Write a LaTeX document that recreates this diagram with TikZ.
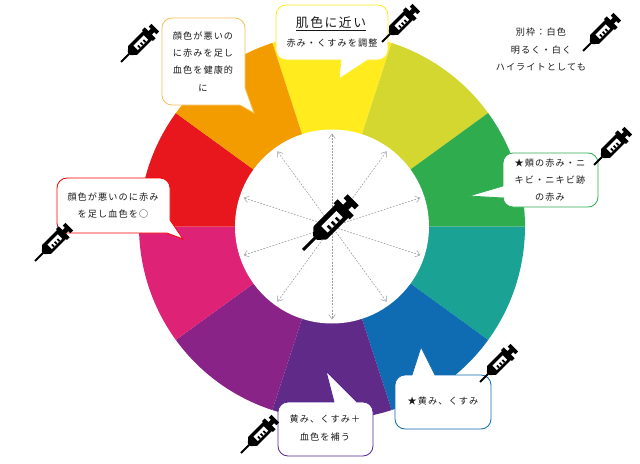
\documentclass[tikz,border=0pt]{standalone}
\usepackage{fontspec}
\setmainfont{Noto Sans CJK JP}[LetterSpace=12]
\usetikzlibrary{arrows.meta,calc}
\definecolor{cyellow}{HTML}{FFEB1E}
\definecolor{clime}{HTML}{D3D72F}
\definecolor{cgreen}{HTML}{2FAC4E}
\definecolor{cteal}{HTML}{1AA395}
\definecolor{cblue}{HTML}{0F6CB2}
\definecolor{cindigo}{HTML}{5F2A88}
\definecolor{cpurple}{HTML}{8A2387}
\definecolor{cmagenta}{HTML}{DE2276}
\definecolor{cred}{HTML}{E8171E}
\definecolor{corange}{HTML}{F39C00}
\tikzset{
  x=0.75pt,y=0.75pt,
  callout/.style={fill=white,line width=0.6pt},
  label/.style={font=\fontsize{6.85pt}{12.9pt}\selectfont,text=black!90,align=center,inner sep=0pt},
  spoke/.style={draw=black!40,line width=0.4pt,dash pattern=on 1.4pt off 1pt,-{Straight Barb[length=3.5pt,width=5pt,line width=0.35pt]}},
  small syringe/.style={scale=0.97,rotate=45},
  syringe/.pic={
    \fill (0,-1) -- (12,-1) -- (12,-2) -- (17,-6.5) -- (38.5,-6.5) -- (38.5,-8) -- (42.5,-8)
       -- (42.5,-2.5) -- (46,-2.5) -- (46,-5.5) -- (50,-5.5) -- (50,5.5) -- (46,5.5)
       -- (46,2.5) -- (42.5,2.5) -- (42.5,8) -- (38.5,8) -- (38.5,6.5) -- (17,6.5) -- (12,2)
       -- (12,1) -- (0,1) -- cycle;
    \fill[white] (21,-3.5) rectangle (36,2.8);
    \foreach \t in {23.5,27.5,31.5}{\fill (\t,-3.5) rectangle (\t+1.8,-.2);}
  }
}
\begin{document}
\begin{tikzpicture}
\useasboundingbox (0,-464) rectangle (640,0);
\coordinate (hub) at (332,-226.5);
% wheel
\foreach \a/\c in {72/cyellow,36/clime,0/cgreen,-36/cteal,-72/cblue,-108/cindigo,-144/cpurple,-180/cmagenta,144/cred,108/corange}{
  \fill[\c] (hub) -- ++(\a:193) arc[start angle=\a,delta angle=36,radius=193] -- cycle;
}
\node[circle,fill=white,minimum size=145.5pt,inner sep=0pt] (disc) at (hub) {};
% spokes
\foreach \a [count=\i] in {90,54,18,-18,-54,-90,-126,-162,162,126}{
  \coordinate (end\i) at ($(hub)+(\a:93)$);
  \draw[spoke] (hub) -- (end\i);
}
\pic (s0) at (303,-250) [scale=1.42,rotate=45] {syringe};
% callouts
\draw[callout,draw=corange!65] [rounded corners=7.5pt] (162,-18) -- (245,-18) [sharp corners] -- (245,-88) -- (254,-113) -- (240,-105) [rounded corners=7.5pt] -- (162,-105) -- cycle;
\draw[callout,draw=cyellow] [rounded corners=7.5pt] (276,-5) -- (388,-5) -- (388,-60) [sharp corners] -- (368,-60) -- (339,-79) -- (341,-60) [rounded corners=7.5pt] -- (276,-60) -- cycle;
\draw[callout,draw=cgreen] [rounded corners=7.5pt] (503,-153) -- (598,-153) -- (598,-207) -- (503,-207) [sharp corners] -- (503,-198) -- (469,-196) -- (503,-186) [rounded corners=7.5pt] -- cycle;
\draw[callout,draw=red] [rounded corners=7.5pt] (57,-178) -- (170,-178) [sharp corners] -- (170,-220) -- (183,-239) -- (167,-233) [rounded corners=7.5pt] -- (57,-233) -- cycle;
\draw[callout,draw=cindigo!90!blue] [rounded corners=7.5pt] (278,-402) [sharp corners] -- (334,-402) -- (326,-371) -- (357,-402) [rounded corners=7.5pt] -- (373,-402) -- (373,-456) -- (278,-456) -- cycle;
\draw[callout,draw=cblue] [rounded corners=7.5pt] (395,-375) [sharp corners] -- (412,-375) -- (421,-347) -- (435,-375) [rounded corners=7.5pt] -- (491,-375) -- (491,-429) -- (395,-429) -- cycle;
% texts
\node[label] (torange) at (203,-61.5) {顔色が悪いの\\に赤みを足し\\血色を健康的\\に};
\node[label,font=\fontsize{9.6pt}{12pt}\selectfont] (tyt) at (331,-24) {\underline{肌色に近い}};
\node[label] (tyb) at (332,-43) {赤み・くすみを調整};
\node[label] (tnote) at (541,-49.5) {別枠：白色\\明るく・白く\\ハイライトとしても};
\node[label] (tgreen) at (550,-180) {★頬の赤み・ニ\\キビ・ニキビ跡\\の赤み};
\node[label] (tred) at (113,-205.5) {顔色が悪いのに赤み\\を足し血色を○};
\node[label] (tindigo) at (325,-428) {黄み、くすみ＋\\血色を補う};
\node[label] (tblue) at (443,-401) {★黄み、くすみ};
% syringes
\pic (s1) at (121,-62) [small syringe] {syringe};
\pic (s2) at (382,-42) [small syringe] {syringe};
\pic (s3) at (583,-51) [small syringe] {syringe};
\pic (s4) at (594,-165) [small syringe] {syringe};
\pic (s5) at (480,-382) [small syringe] {syringe};
\pic (s6) at (241,-453) [small syringe] {syringe};
\pic (s7) at (35,-261) [small syringe] {syringe};
\end{tikzpicture}
\end{document}
